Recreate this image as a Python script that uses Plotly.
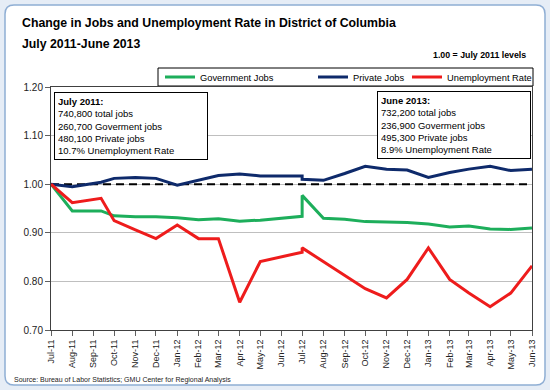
import plotly.graph_objects as go

# ---------------- data ----------------
dates = ["2011-07-01", "2011-08-01", "2011-09-12", "2011-10-01", "2011-11-01", "2011-12-01",
         "2012-01-01", "2012-02-01", "2012-03-01", "2012-04-01", "2012-05-01", "2012-06-01",
         "2012-07-01", "2012-07-01", "2012-08-01", "2012-09-01", "2012-10-01", "2012-11-01",
         "2012-12-01", "2013-01-01", "2013-02-01", "2013-03-01", "2013-04-01", "2013-05-01",
         "2013-06-01"]

government_jobs = [1.000, 0.945, 0.945, 0.935, 0.933, 0.933, 0.931, 0.927, 0.929, 0.924,
                   0.926, 0.930, 0.934, 0.977, 0.930, 0.928, 0.923, 0.922, 0.921, 0.918,
                   0.912, 0.914, 0.908, 0.907, 0.910]

private_jobs = [1.000, 0.995, 1.004, 1.012, 1.014, 1.012, 0.998, 1.009, 1.018, 1.021,
                1.017, 1.017, 1.017, 1.010, 1.008, 1.022, 1.037, 1.031, 1.029, 1.014,
                1.024, 1.031, 1.037, 1.028, 1.031]

unemployment_rate = [1.000, 0.962, 0.971, 0.925, 0.906, 0.888, 0.916, 0.888, 0.888, 0.757,
                     0.841, 0.851, 0.860, 0.869, 0.841, 0.813, 0.785, 0.766, 0.804, 0.869,
                     0.804, 0.776, 0.748, 0.776, 0.832]

baseline_dates = ["2011-07-01", "2013-06-01"]
baseline = [1.0, 1.0]

series_names = ["Government Jobs", "Private Jobs", "Unemployment Rate"]

left_box_text = ["July 2011:", "740,800 total jobs", "260,700 Goverment jobs",
                 "480,100 Private jobs", "10.7% Unemployment Rate"]
right_box_text = ["June 2013:", "732,200 total jobs", "236,900 Goverment jobs",
                  "495,300 Private jobs", "8.9% Unemployment Rate"]

title_1 = "Change in Jobs and Unemployment Rate in District of Columbia"
title_2 = "July 2011-June 2013"
note = "1.00 = July 2011 levels"
source = "Source: Bureau of Labor Statistics; GMU Center for Regional Analysis"

# ---------------- layout helpers ----------------
W, H = 550, 390
ML, MR, MT, MB = 51, 18, 87, 60
PW, PH = W - ML - MR, H - MT - MB


def px(x):
    return (x - ML) / PW


def py(y):
    return (H - MB - y) / PH


FONT = "Arial, Liberation Sans, sans-serif"
GREEN = "#1DAE5B"
NAVY = "#0E2A6B"
RED = "#EE1C1C"

fig = go.Figure()

fig.add_trace(go.Scatter(x=baseline_dates, y=baseline, mode="lines",
                         line=dict(color="black", width=2, dash="8px,5px"),
                         showlegend=False, hoverinfo="skip"))
fig.add_trace(go.Scatter(x=dates, y=government_jobs, mode="lines", name=series_names[0],
                         line=dict(color=GREEN, width=3), legend="legend"))
fig.add_trace(go.Scatter(x=dates, y=private_jobs, mode="lines", name=series_names[1],
                         line=dict(color=NAVY, width=3), legend="legend2"))
fig.add_trace(go.Scatter(x=dates, y=unemployment_rate, mode="lines", name=series_names[2],
                         line=dict(color=RED, width=3), legend="legend3"))


def rounded_path(x0, y0, x1, y1, r):
    return (f"M {px(x0 + r)},{py(y0)} L {px(x1 - r)},{py(y0)} "
            f"Q {px(x1)},{py(y0)} {px(x1)},{py(y0 + r)} "
            f"L {px(x1)},{py(y1 - r)} Q {px(x1)},{py(y1)} {px(x1 - r)},{py(y1)} "
            f"L {px(x0 + r)},{py(y1)} Q {px(x0)},{py(y1)} {px(x0)},{py(y1 - r)} "
            f"L {px(x0)},{py(y0 + r)} Q {px(x0)},{py(y0)} {px(x0 + r)},{py(y0)} Z")


shapes = [
    dict(type="path", xref="paper", yref="paper", path=rounded_path(5, 5, 545, 385, 9),
         fillcolor="white", line=dict(color="#8FAED4", width=1.5), layer="below"),
    dict(type="rect", xref="paper", yref="paper", x0=px(158), x1=px(533), y0=py(68), y1=py(86),
         fillcolor="white", line=dict(color="black", width=1), layer="below"),
]

annotations = [
    dict(text=f"<b>{title_1}</b>", x=px(20), y=py(23), xref="paper", yref="paper",
         xanchor="left", yanchor="middle", showarrow=False,
         font=dict(family=FONT, size=12.3, color="black")),
    dict(text=f"<b>{title_2}</b>", x=px(20), y=py(44), xref="paper", yref="paper",
         xanchor="left", yanchor="middle", showarrow=False,
         font=dict(family=FONT, size=12.3, color="black")),
    dict(text=f"<b>{note}</b>", x=px(528), y=py(54.5), xref="paper", yref="paper",
         xanchor="right", yanchor="middle", showarrow=False,
         font=dict(family=FONT, size=8.8, color="black")),
    dict(text=source, x=px(12), y=py(379.5), xref="paper", yref="paper",
         xanchor="left", yanchor="middle", showarrow=False,
         font=dict(family=FONT, size=7, color="#222")),
    dict(text="<b>" + left_box_text[0] + "</b><br>" + "<br>".join(left_box_text[1:]),
         x=px(54), y=py(92), xref="paper", yref="paper", xanchor="left", yanchor="top",
         align="left", showarrow=False, width=146, bgcolor="white",
         bordercolor="black", borderwidth=1, borderpad=3,
         font=dict(family=FONT, size=9.5, color="black")),
    dict(text="<b>" + right_box_text[0] + "</b><br>" + "<br>".join(right_box_text[1:]),
         x=px(377), y=py(91), xref="paper", yref="paper", xanchor="left", yanchor="top",
         align="left", showarrow=False, width=146, bgcolor="white",
         bordercolor="black", borderwidth=1, borderpad=3,
         font=dict(family=FONT, size=9.5, color="black")),
]

leg_common = dict(orientation="h", yanchor="middle", xanchor="left", bgcolor="rgba(0,0,0,0)",
                  borderwidth=0, font=dict(family=FONT, size=9.3, color="black"))

fig.update_layout(
    width=W, height=H,
    margin=dict(l=ML, r=MR, t=MT, b=MB),
    paper_bgcolor="#E6EDF6",
    plot_bgcolor="rgba(0,0,0,0)",
    font=dict(family=FONT, size=10, color="#222"),
    shapes=shapes,
    annotations=annotations,
    legend=dict(x=px(160), y=py(77), **leg_common),
    legend2=dict(x=px(313), y=py(77), **leg_common),
    legend3=dict(x=px(407), y=py(77), **leg_common),
    xaxis=dict(type="date", range=["2011-07-01", "2013-06-01"], tick0="2011-07-01",
               dtick="M1", tickformat="%b-%y", tickangle=-90, ticks="outside", ticklen=5,
               tickcolor="#606060", showgrid=False, showline=True, linecolor="#404040",
               linewidth=1, mirror=True, tickfont=dict(family=FONT, size=9, color="#222")),
    yaxis=dict(range=[0.70, 1.20], dtick=0.1, tickformat=".2f", ticks="outside", ticklen=5,
               tickcolor="#606060", showgrid=True, gridcolor="#BFBFBF", gridwidth=1,
               showline=True, linecolor="#404040", linewidth=1, mirror=True, zeroline=False,
               tickfont=dict(family=FONT, size=10, color="#222")),
)

fig.write_html("out.html", config={"displayModeBar": False},
               post_script="document.body.style.margin='0px';document.body.style.padding='0px';"
                           "document.body.style.overflow='hidden';")
